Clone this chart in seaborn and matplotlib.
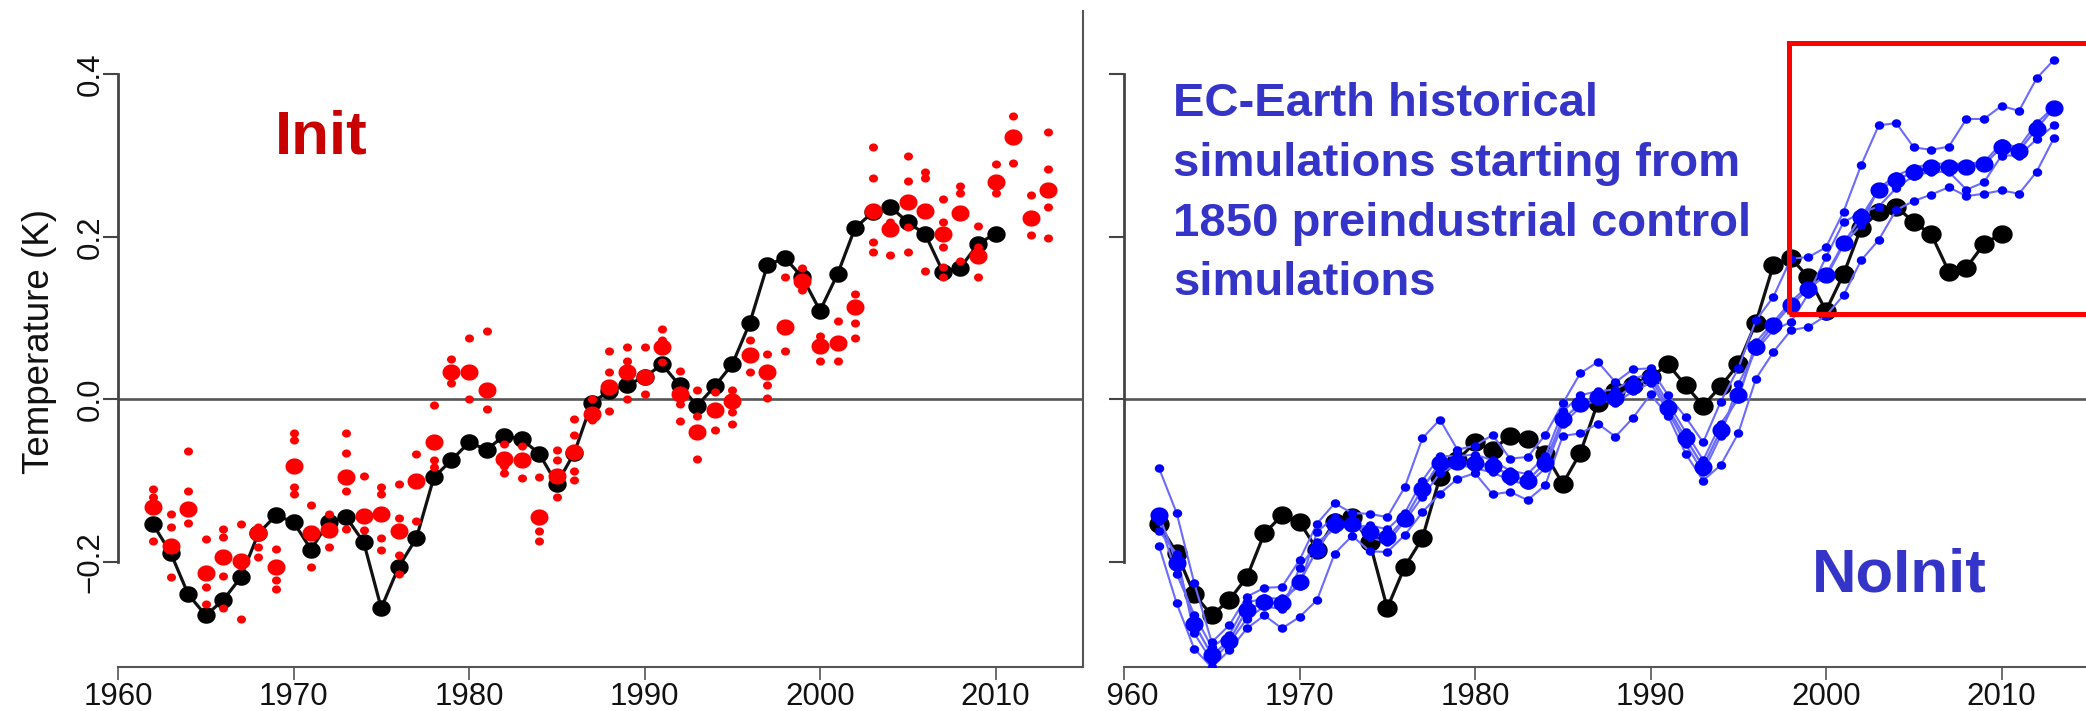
import numpy as np
import pandas as pd
import matplotlib
matplotlib.use("Agg")
import matplotlib.pyplot as plt
from matplotlib.path import Path
from matplotlib.markers import MarkerStyle
from matplotlib.patches import Rectangle
from matplotlib.transforms import Bbox
import seaborn as sns

sns.set_theme(style="ticks")
plt.rcParams['font.family'] = ['Liberation Sans', 'DejaVu Sans']

# ---------------- data ----------------
obs_years = list(range(1962, 2011))
obs_temp = [-0.154, -0.189, -0.240, -0.266, -0.247, -0.219, -0.165, -0.143, -0.151,
            -0.185, -0.151, -0.145, -0.176, -0.257, -0.206, -0.171, -0.096, -0.075,
            -0.053, -0.062, -0.045, -0.049, -0.067, -0.104, -0.066, -0.004, 0.010,
            0.018, 0.027, 0.043, 0.017, -0.008, 0.016, 0.043, 0.094, 0.165, 0.174,
            0.150, 0.109, 0.154, 0.211, 0.230, 0.237, 0.218, 0.203, 0.157, 0.162,
            0.191, 0.204]

init_years = list(range(1962, 2014))
init_mean = [-0.133, -0.180, -0.135, -0.214, -0.194, -0.199, -0.165, -0.206, -0.082,
             -0.165, -0.161, -0.096, -0.144, -0.141, -0.162, -0.101, -0.053, 0.033,
             0.033, 0.011, -0.074, -0.075, -0.145, -0.094, -0.065, -0.018, 0.015,
             0.034, 0.027, 0.064, 0.007, -0.040, -0.013, -0.002, 0.055, 0.034, 0.089,
             0.146, 0.066, 0.069, 0.114, 0.232, 0.209, 0.243, 0.232, 0.204, 0.229,
             0.176, 0.268, 0.323, 0.223, 0.258]
init_members = [
    [-0.110, -0.120, -0.174], [-0.141, -0.157, -0.219], [-0.064, -0.113, -0.152],
    [-0.172, -0.231, -0.252], [-0.160, -0.169, -0.217, -0.257], [-0.154, -0.205, -0.270],
    [-0.157, -0.182, -0.194], [-0.184, -0.223, -0.233], [-0.041, -0.050, -0.108, -0.117],
    [-0.130, -0.206], [-0.141, -0.182], [-0.041, -0.066, -0.113, -0.160],
    [-0.094, -0.161], [-0.108, -0.117, -0.171, -0.186], [-0.104, -0.146, -0.192, -0.215],
    [-0.067, -0.150], [-0.007, -0.075, -0.083], [0.049, 0.020],
    [0.075, 0.000], [0.084, -0.012], [-0.055, -0.091, -0.082],
    [-0.057, -0.097], [-0.096, -0.162, -0.174], [-0.063, -0.075, -0.120],
    [-0.024, -0.044, -0.088, -0.099], [0.000, -0.026], [0.059, 0.034, -0.014],
    [0.064, 0.047, 0.000], [0.064, 0.007], [0.086, 0.073, 0.046],
    [0.035, -0.006, -0.027], [0.012, -0.020, -0.074], [0.009, -0.038],
    [0.012, -0.016, -0.031], [0.073, 0.034], [0.056, 0.017, 0.002],
    [0.151, 0.059], [0.162, 0.134], [0.078, 0.047],
    [0.096, 0.047], [0.129, 0.094, 0.075], [0.311, 0.272, 0.194, 0.181],
    [0.218, 0.177], [0.299, 0.269, 0.212, 0.181], [0.280, 0.272, 0.158],
    [0.246, 0.218, 0.187, 0.163, 0.150], [0.262, 0.254, 0.170], [0.213, 0.187, 0.151],
    [0.290, 0.254], [0.349, 0.291], [0.251, 0.202],
    [0.329, 0.283, 0.237, 0.198],
]

noinit_years = list(range(1962, 2014))
noinit_mean = [-0.143, -0.201, -0.276, -0.315, -0.297, -0.259, -0.250, -0.251, -0.225,
               -0.185, -0.153, -0.153, -0.163, -0.170, -0.147, -0.110, -0.078, -0.077,
               -0.078, -0.082, -0.094, -0.100, -0.078, -0.024, -0.006, 0.003, 0.001,
               0.016, 0.027, -0.011, -0.048, -0.083, -0.038, 0.005, 0.064, 0.091, 0.116,
               0.136, 0.153, 0.192, 0.224, 0.258, 0.270, 0.280, 0.286, 0.286, 0.286,
               0.289, 0.310, 0.306, 0.333, 0.359]
noinit_m1 = [-0.085, -0.140, -0.226, -0.299, -0.278, -0.243, -0.232, -0.231, -0.198,
             -0.153, -0.128, -0.140, -0.141, -0.145, -0.108, -0.048, -0.025, -0.062,
             -0.057, -0.044, -0.073, -0.071, -0.044, -0.005, 0.032, 0.046, 0.021,
             0.037, 0.038, 0.005, -0.022, -0.053, -0.003, 0.038, 0.097, 0.126, 0.173,
             0.175, 0.187, 0.231, 0.288, 0.337, 0.340, 0.310, 0.307, 0.311, 0.345,
             0.345, 0.361, 0.355, 0.395, 0.418]
noinit_m2 = [-0.162, -0.190, -0.288, -0.322, -0.300, -0.270, -0.255, -0.258, -0.208,
             -0.176, -0.160, -0.150, -0.170, -0.176, -0.150, -0.120, -0.091, -0.080,
             -0.085, -0.090, -0.100, -0.105, -0.085, -0.030, -0.010, 0.000, -0.005,
             0.010, 0.020, -0.015, -0.055, -0.090, -0.045, 0.019, 0.060, 0.085, 0.095,
             0.130, 0.175, 0.218, 0.230, 0.237, 0.260, 0.275, 0.280, 0.280, 0.258,
             0.267, 0.300, 0.300, 0.320, 0.337]
noinit_m3 = [-0.150, -0.215, -0.265, -0.305, -0.290, -0.250, -0.245, -0.245, -0.230,
             -0.163, -0.145, -0.158, -0.155, -0.160, -0.140, -0.100, -0.070, -0.070,
             -0.068, -0.075, -0.088, -0.092, -0.070, -0.015, 0.005, 0.010, 0.012,
             0.025, 0.032, -0.005, -0.040, -0.075, -0.030, 0.000, 0.070, 0.095, 0.120,
             0.140, 0.150, 0.190, 0.215, 0.260, 0.275, 0.285, 0.290, 0.290, 0.290,
             0.292, 0.315, 0.310, 0.340, 0.360]
noinit_m4 = [-0.181, -0.251, -0.307, -0.330, -0.309, -0.282, -0.266, -0.282, -0.268,
             -0.247, -0.190, -0.168, -0.187, -0.188, -0.167, -0.139, -0.116, -0.098,
             -0.091, -0.117, -0.114, -0.124, -0.106, -0.045, -0.042, -0.030, -0.046,
             -0.023, 0.006, -0.020, -0.067, -0.100, -0.081, -0.042, 0.025, 0.058, 0.085,
             0.089, 0.103, 0.128, 0.171, 0.196, 0.233, 0.244, 0.252, 0.261, 0.250,
             0.253, 0.257, 0.253, 0.280, 0.322]

xticks = [1960, 1970, 1980, 1990, 2000, 2010]
yticks = [-0.2, 0.0, 0.2, 0.4]
ytick_labels = ["\u22120.2", "0.0", "0.2", "0.4"]
box_x = [1997.87, 2017.0]
box_y = [0.105, 0.439]

# ---------------- frames ----------------
df_obs = pd.DataFrame({"year": obs_years, "temp": obs_temp})
df_init_mean = pd.DataFrame({"year": init_years, "temp": init_mean})
df_init_mem = pd.DataFrame(
    [(y, v) for y, vals in zip(init_years, init_members) for v in vals],
    columns=["year", "temp"])
df_noinit_mean = pd.DataFrame({"year": noinit_years, "temp": noinit_mean})
df_noinit_mem = pd.concat([
    pd.DataFrame({"year": noinit_years, "temp": m, "member": i})
    for i, m in enumerate([noinit_m1, noinit_m2, noinit_m3, noinit_m4])
])

# ---------------- figure ----------------
W, H = 2086, 711
fig = plt.figure(figsize=(W / 100, H / 100), dpi=100)
fig.patch.set_facecolor("white")

def px_axes(x0, x1, ytop, ybot):
    return fig.add_axes([x0 / W, 1 - ybot / H, (x1 - x0) / W, (ybot - ytop) / H])

PXY = 17.55   # px per year
ax1 = px_axes(118, 1083, 11.3, 666.6)
ax2 = px_axes(1124, 2086, 11.3, 666.6)
ax1.set_xlim(1960, 1960 + 965 / PXY)
ax2.set_xlim(1960, 1960 + 962 / PXY)
for ax in (ax1, ax2):
    ax.set_ylim(-0.329, 0.4775)
    ax.set_facecolor("white")

t = np.linspace(0, 2 * np.pi, 64)
ell = MarkerStyle(Path(np.column_stack([np.cos(t), 0.9 * np.sin(t)]), closed=False))

GRAY = "#555555"
RED = "#ff0000"
BLUE = "#0000ff"
BLUE_LINE = "#6a6aff"

# ----- left panel (Init) -----
ax1.axhline(0, color=GRAY, lw=1.9, zorder=1)
sns.lineplot(data=df_obs, x="year", y="temp", color="#111111", lw=2.3,
             estimator=None, sort=False, ax=ax1, zorder=2, legend=False)
sns.scatterplot(data=df_obs, x="year", y="temp", color="black", s=175, marker=ell,
                linewidth=0, ax=ax1, zorder=3, legend=False)
sns.scatterplot(data=df_init_mem, x="year", y="temp", color=RED, s=42, marker=ell,
                linewidth=0, ax=ax1, zorder=4, legend=False)
sns.scatterplot(data=df_init_mean, x="year", y="temp", color=RED, s=168, marker=ell,
                linewidth=0, ax=ax1, zorder=5, legend=False)

# ----- right panel (NoInit) -----
ax2.axhline(0, color=GRAY, lw=1.9, zorder=1)
sns.lineplot(data=df_obs, x="year", y="temp", color="#111111", lw=2.3,
             estimator=None, sort=False, ax=ax2, zorder=2, legend=False)
sns.scatterplot(data=df_obs, x="year", y="temp", color="black", s=215, marker=ell,
                linewidth=0, ax=ax2, zorder=3, legend=False)
sns.lineplot(data=df_noinit_mem, x="year", y="temp", units="member", estimator=None,
             color=BLUE_LINE, lw=1.5, sort=False, ax=ax2, zorder=4, legend=False)
sns.lineplot(data=df_noinit_mean, x="year", y="temp", estimator=None,
             color=BLUE_LINE, lw=1.7, sort=False, ax=ax2, zorder=4, legend=False)
sns.scatterplot(data=df_noinit_mem, x="year", y="temp", color=BLUE, s=46, marker=ell,
                linewidth=0, ax=ax2, zorder=5, legend=False)
sns.scatterplot(data=df_noinit_mean, x="year", y="temp", color=BLUE, s=170, marker=ell,
                linewidth=0, ax=ax2, zorder=6, legend=False)
ax2.add_patch(Rectangle((box_x[0], box_y[0]), box_x[1] - box_x[0], box_y[1] - box_y[0],
                        fill=False, edgecolor=RED, lw=3.6, zorder=10, clip_on=False))

# ----- axes styling -----
for ax in (ax1, ax2):
    ax.set_xlabel("")
    ax.set_ylabel("")
    ax.set_xticks(xticks)
    ax.set_xticklabels([str(v) for v in xticks])
    ax.set_yticks(yticks)
    ax.spines["top"].set_visible(False)
    ax.spines["left"].set_bounds(-0.2, 0.4)
    ax.spines["left"].set_color("#444444")
    ax.spines["left"].set_linewidth(2.0)
    ax.spines["bottom"].set_color(GRAY)
    ax.spines["bottom"].set_linewidth(1.5)
    ax.tick_params(axis="x", direction="out", length=9.5, width=1.2, colors=GRAY,
                   labelcolor="#111111", labelsize=22.5, pad=1.5)
    ax.tick_params(axis="y", direction="out", length=10.8, width=1.5, colors="#444444",
                   labelcolor="#111111", labelsize=22.5, pad=-2)

ax1.spines["right"].set_visible(True)
ax1.spines["right"].set_color(GRAY)
ax1.spines["right"].set_linewidth(1.5)
ax2.spines["right"].set_visible(False)

ax1.set_yticklabels(ytick_labels)
for lbl in ax1.get_yticklabels():
    lbl.set_rotation(90)
    lbl.set_va("center")
ax2.set_yticklabels([])

# the 1960 label of the right panel is cut by the left panel in the reference
clip = Bbox.from_extents(1107, 0, W, H)
for tk in ax2.xaxis.get_major_ticks():
    tk.label1.set_clip_on(True)
    tk.label1.set_clip_box(clip)

# ----- texts -----
def ftext(x, y, s, **kw):
    fig.text(x / W, 1 - y / H, s, **kw)

ftext(40, 341, "Temperature (K)", rotation=90, ha="center", va="center",
      fontsize=26.5, color="#111111")
ftext(275, 154, "Init", ha="left", va="baseline", fontsize=44.5,
      fontweight="bold", color="#c80000")
ftext(1812, 592, "NoInit", ha="left", va="baseline", fontsize=44.5,
      fontweight="bold", color="#3434c8")
blue_lines = ["EC-Earth historical", "simulations starting from",
              "1850 preindustrial control", "simulations"]
for s, yb in zip(blue_lines, [115.6, 176.5, 235.8, 294.7]):
    ftext(1173, yb, s, ha="left", va="baseline", fontsize=34,
          fontweight="bold", color="#3434c8")

fig.savefig("out.png", dpi=100, facecolor="white")
